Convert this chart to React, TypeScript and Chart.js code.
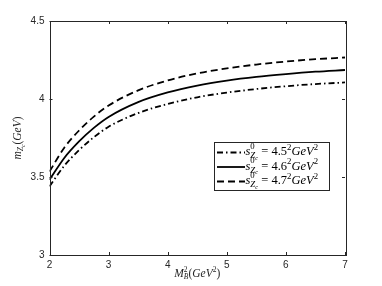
import React, { useEffect, useRef } from "react";
import { Chart, registerables } from "chart.js";

Chart.register(...registerables);

const xValues = [2, 2.25, 2.5, 2.75, 3, 3.5, 4, 4.5, 5, 5.5, 6, 6.5, 7];
const series45 = [3.44, 3.572, 3.672, 3.755, 3.822, 3.91, 3.968, 4.011, 4.041, 4.064, 4.082, 4.096, 4.106];
const series46 = [3.482, 3.622, 3.728, 3.815, 3.885, 3.98, 4.042, 4.086, 4.118, 4.142, 4.16, 4.175, 4.186];
const series47 = [3.535, 3.688, 3.798, 3.887, 3.958, 4.055, 4.119, 4.164, 4.196, 4.221, 4.24, 4.255, 4.266];
const legendLabels = ["4.5", "4.6", "4.7"];
const xTicks = [2, 3, 4, 5, 6, 7];
const yTicks = [3, 3.5, 4, 4.5];

const dashes: number[][] = [[6, 3, 1.5, 3], [], [7, 4]];
const AXIS = "#262626";
const SERIF = "'Liberation Serif', 'DejaVu Serif', serif";

type Seg = { t: string; s: number; dy: number; it: boolean; noAdv?: boolean; pad?: number };

function segWidth(ctx: CanvasRenderingContext2D, segs: Seg[]) {
  let x = 0;
  let maxX = 0;
  for (const g of segs) {
    ctx.font = `${g.it ? "italic " : ""}${g.s}px ${SERIF}`;
    const w = ctx.measureText(g.t).width + 2 * (g.pad || 0);
    maxX = Math.max(maxX, x + w);
    if (!g.noAdv) x += w;
  }
  return Math.max(x, maxX);
}

function drawSegs(ctx: CanvasRenderingContext2D, segs: Seg[], x0: number, y: number) {
  let x = x0;
  ctx.textBaseline = "middle";
  ctx.textAlign = "left";
  for (const g of segs) {
    ctx.font = `${g.it ? "italic " : ""}${g.s}px ${SERIF}`;
    const p = g.pad || 0;
    ctx.fillText(g.t, x + p, y + g.dy);
    if (!g.noAdv) x += ctx.measureText(g.t).width + 2 * p;
  }
}

function legendSegs(val: string, f: number): Seg[] {
  const sm = f * 0.7;
  return [
    { t: "s", s: f, dy: 0, it: true },
    { t: "0", s: sm, dy: -f * 0.45, it: false, noAdv: true },
    { t: "Z", s: f * 0.7, dy: f * 0.33, it: true },
    { t: "c", s: f * 0.5, dy: f * 0.47, it: true },
    { t: "=", s: f, dy: 0, it: false, pad: 3.2 },
    { t: val, s: f, dy: 0, it: false },
    { t: "2", s: sm, dy: -f * 0.38, it: false },
    { t: "GeV", s: f, dy: 0, it: true },
    { t: "2", s: sm, dy: -f * 0.38, it: false },
  ];
}

const decorPlugin = {
  id: "decor",
  afterDraw(chart: any) {
    const ctx: CanvasRenderingContext2D = chart.ctx;
    const a = chart.chartArea;
    const xs = chart.scales.x;
    const ys = chart.scales.y;
    ctx.save();
    // box
    ctx.strokeStyle = AXIS;
    ctx.lineWidth = 1;
    ctx.setLineDash([]);
    ctx.strokeRect(Math.round(a.left) + 0.5, Math.round(a.top) + 0.5, Math.round(a.right - a.left), Math.round(a.bottom - a.top));
    const tl = 3;
    ctx.beginPath();
    for (const v of xTicks) {
      const px = Math.round(xs.getPixelForValue(v)) + 0.5;
      ctx.moveTo(px, a.bottom);
      ctx.lineTo(px, a.bottom - tl);
      ctx.moveTo(px, a.top);
      ctx.lineTo(px, a.top + tl);
    }
    for (const v of yTicks) {
      const py = Math.round(ys.getPixelForValue(v)) + 0.5;
      ctx.moveTo(a.left, py);
      ctx.lineTo(a.left + tl, py);
      ctx.moveTo(a.right, py);
      ctx.lineTo(a.right - tl, py);
    }
    ctx.stroke();

    // legend
    const f = 12.5;
    const bx = 214.5, by = 142.5, bw = 115, bh = 48;
    ctx.fillStyle = "#fff";
    ctx.fillRect(bx, by, bw, bh);
    ctx.strokeStyle = AXIS;
    ctx.lineWidth = 1;
    ctx.strokeRect(bx, by, bw, bh);
    const rows = [152.5, 167, 181.5];
    for (let i = 0; i < 3; i++) {
      const yy = rows[i];
      ctx.strokeStyle = "#000";
      ctx.lineWidth = 1.8;
      ctx.setLineDash(dashes[i]);
      ctx.beginPath();
      ctx.moveTo(217, yy);
      ctx.lineTo(245, yy);
      ctx.stroke();
      ctx.setLineDash([]);
      ctx.fillStyle = "#000";
      drawSegs(ctx, legendSegs(legendLabels[i], f), 245.5, yy - 0.5);
    }

    // x title
    const tf = 11.5;
    ctx.fillStyle = AXIS;
    const xt: Seg[] = [
      { t: "M", s: tf, dy: 0, it: true },
      { t: "2", s: tf * 0.65, dy: -tf * 0.38, it: false, noAdv: true },
      { t: "B", s: tf * 0.65, dy: tf * 0.3, it: true },
      { t: "(", s: tf, dy: 0, it: false },
      { t: "GeV", s: tf, dy: 0, it: true },
      { t: "2", s: tf * 0.65, dy: -tf * 0.38, it: false },
      { t: ")", s: tf, dy: 0, it: false },
    ];
    const xw = segWidth(ctx, xt);
    drawSegs(ctx, xt, (a.left + a.right) / 2 - xw / 2, 274);

    // y title
    const yt: Seg[] = [
      { t: "m", s: tf, dy: 0, it: true },
      { t: "Z", s: tf * 0.65, dy: tf * 0.3, it: true },
      { t: "c", s: tf * 0.48, dy: tf * 0.44, it: true },
      { t: "(", s: tf, dy: 0, it: false },
      { t: "GeV", s: tf, dy: 0, it: true },
      { t: ")", s: tf, dy: 0, it: false },
    ];
    const yw = segWidth(ctx, yt);
    ctx.translate(18, 138);
    ctx.rotate(-Math.PI / 2);
    drawSegs(ctx, yt, -yw / 2, 0);
    ctx.restore();
  },
};

export default function App() {
  const ref = useRef<HTMLCanvasElement | null>(null);
  useEffect(() => {
    if (!ref.current) return;
    const mk = (vals: number[]) => xValues.map((x, i) => ({ x, y: vals[i] }));
    const all = [series45, series46, series47];
    const chart = new Chart(ref.current, {
      type: "line",
      data: {
        datasets: all.map((vals, i) => ({
          label: legendLabels[i],
          data: mk(vals),
          borderColor: "#000",
          borderWidth: 1.8,
          borderDash: dashes[i],
          pointRadius: 0,
          fill: false,
          cubicInterpolationMode: "monotone" as const,
        })),
      },
      options: {
        animation: false,
        responsive: false,
        maintainAspectRatio: false,
        layout: { padding: { left: 0, right: 37, top: 21, bottom: 0 } },
        plugins: { legend: { display: false }, tooltip: { enabled: false } },
        scales: {
          x: {
            type: "linear",
            min: 2,
            max: 7,
            afterBuildTicks: (s: any) => { s.ticks = xTicks.map((v) => ({ value: v })); },
            afterFit: (s: any) => { s.height = 31; },
            grid: { display: false, drawTicks: false },
            border: { display: false },
            ticks: { color: AXIS, font: { family: "'Liberation Sans', Arial, sans-serif", size: 10 }, padding: 4, maxRotation: 0, callback: (v: any) => String(v) },
          },
          y: {
            type: "linear",
            min: 3,
            max: 4.5,
            afterBuildTicks: (s: any) => { s.ticks = yTicks.map((v) => ({ value: v })); },
            afterFit: (s: any) => { s.width = 49.5; },
            grid: { display: false, drawTicks: false },
            border: { display: false },
            ticks: { color: AXIS, font: { family: "'Liberation Sans', Arial, sans-serif", size: 10 }, padding: 5, callback: (v: any) => String(v) },
          },
        },
      },
      plugins: [decorPlugin],
    });
    return () => chart.destroy();
  }, []);
  return (
    <div style={{ position: "fixed", left: 0, top: 0, width: 382, height: 286, background: "#fff" }}>
      <canvas ref={ref} width={382} height={286} style={{ width: 382, height: 286, display: "block" }} />
    </div>
  );
}
